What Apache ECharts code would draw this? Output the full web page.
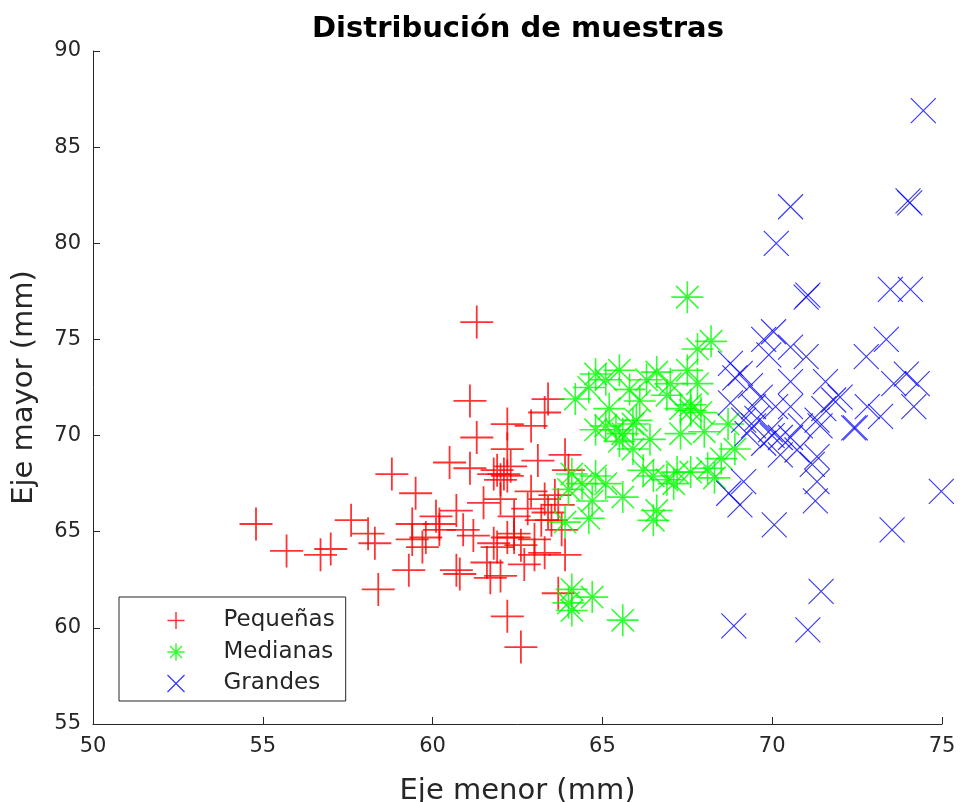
<!DOCTYPE html>
<html>
<head>
<meta charset="utf-8">
<script src="https://cdn.jsdelivr.net/npm/echarts@6/dist/echarts.min.js"></script>
<style>html,body{margin:0;padding:0;background:#fff}#c{width:960px;height:802px}</style>
</head>
<body>
<div id="c"></div>
<script>
const titleText = 'Distribución de muestras';
const xName = 'Eje menor (mm)';
const yName = 'Eje mayor (mm)';
const seriesNames = ['Pequeñas', 'Medianas', 'Grandes'];
const xTicks = [50, 55, 60, 65, 70, 75];
const yTicks = [55, 60, 65, 70, 75, 80, 85, 90];

const smallX = [54.8,55.7,56.7,57.0,57.6,58.1,58.3,58.4,58.8,59.5,59.3,59.4,59.4,59.7,60.2,60.1,60.5,60.7,60.9,60.7,60.8,61.1,61.1,61.3,61.3,62.2,62.2,62.9,63.3,63.4,61.8,62.1,62.2,61.9,62.0,63.1,63.9,62.9,63.3,63.7,62.4,62.0,61.8,61.9,62.0,61.7,62.2,62.6,62.7,62.4,63.0,63.3,63.9,63.7,63.5,63.8,62.6,63.0,64.0,61.5,61.2,62.8,63.6,62.3,61.6,63.4,63.2,62.4,62.2,59.8,60.2];
const smallY = [65.4,64.0,63.8,64.1,65.6,64.9,64.4,62.0,68.0,67.0,63.0,65.4,64.6,64.2,65.4,65.8,68.6,66.1,65.1,63.0,62.8,68.3,71.8,75.9,69.9,70.6,69.3,70.5,71.2,71.9,68.0,68.0,67.9,68.2,67.7,68.7,69.0,67.1,66.7,66.4,64.9,66.7,64.4,64.2,62.7,62.6,60.6,59.0,63.3,65.8,64.6,63.9,63.8,61.8,65.6,65.1,64.3,63.8,68.2,66.5,64.8,66.2,66.9,68.4,63.4,66.0,65.6,64.7,64.7,64.7,65.1];

const medX = [67.5,68.2,67.8,64.2,64.8,65.5,65.1,66.6,67.5,67.0,65.8,67.8,67.6,67.3,67.9,66.9,66.1,67.3,64.8,65.1,65.6,65.9,65.5,66.4,68.7,64.1,64.4,64.8,65.1,64.7,64.6,64.0,63.9,66.5,66.9,67.2,66.2,66.6,66.5,67.6,68.1,68.5,68.3,64.1,64.1,64.7,65.6,64.0,65.9,65.2,66.3,65.6,67.1,68.9,68.0,64.6,66.0,67.6,65.4];
const medY = [77.2,74.9,74.5,71.9,73.2,73.4,72.9,73.3,73.4,72.7,72.4,72.7,71.3,71.4,71.2,72.1,71.8,70.1,70.3,70.5,70.1,70.6,69.7,69.8,70.6,68.0,67.5,67.9,67.5,66.6,65.7,67.2,65.5,67.9,67.7,68.1,68.2,66.1,65.6,68.1,68.3,68.8,67.8,62.0,60.9,61.6,60.4,61.3,69.3,71.4,72.9,66.8,67.5,69.3,70.2,72.5,70.8,71.6,70.3];

const largeX = [74.45,74.05,74.0,70.54,70.12,71.05,71.0,73.48,74.07,73.36,72.77,73.95,70.04,69.75,70.54,71.0,68.77,69.06,70.54,71.57,74.27,73.58,74.17,73.19,72.8,72.45,72.0,71.52,71.41,69.55,69.95,70.24,70.54,69.75,69.26,70.1,70.54,68.77,70.73,70.24,71.18,71.32,71.27,69.16,68.72,69.05,70.06,73.53,74.98,71.44,68.87,71.05,69.36,69.65,69.45,69.16,70.83,71.32,71.81,72.4,71.32,69.45,70.0,69.9,68.9];
const largeY = [86.9,82.1,82.2,81.9,80.0,77.3,77.2,77.6,77.6,75.0,74.1,73.2,75.4,75.0,74.6,74.1,73.75,73.24,72.8,72.8,72.7,72.7,71.5,71.0,71.5,70.4,72.0,71.4,70.5,70.9,70.3,69.9,69.9,69.6,70.1,71.5,71.5,71.7,69.25,69.0,68.5,67.6,66.6,67.6,67.0,66.4,65.35,65.1,67.1,61.9,60.1,59.9,72.6,72.0,71.5,70.8,70.5,70.8,71.85,70.4,68.9,70.5,70.0,74.2,73.0];

const pair = (xs, ys) => xs.map((x, i) => [x, ys[i]]);

const plusPath = 'path://M10 0L10 20M0 10L20 10';
const starPath = 'path://M10 0L10 20M0 10L20 10M3 3L17 17M17 3L3 17';
const crossPath = 'path://M0 0L20 20M20 0L0 20';
const FONT = 'DejaVu Sans';
const axisColor = '#262626';

const chart = echarts.init(document.getElementById('c'), null, {renderer: 'canvas'});
chart.setOption({
  animation: false,
  backgroundColor: '#fff',
  title: {
    text: titleText,
    left: 307, top: 10,
    textStyle: {fontFamily: FONT, fontWeight: 'bold', fontSize: 29, color: '#000'}
  },
  grid: {left: 93, right: 18, top: 51, bottom: 78, containLabel: false, outerBoundsMode: 'none'},
  xAxis: {
    type: 'value', min: xTicks[0], max: xTicks[xTicks.length - 1], interval: 5,
    name: xName, nameLocation: 'middle', nameGap: 53,
    nameTextStyle: {fontFamily: FONT, fontSize: 29, color: axisColor},
    axisLine: {lineStyle: {color: axisColor, width: 1}},
    axisTick: {inside: true, length: 7, lineStyle: {color: axisColor}},
    axisLabel: {fontFamily: FONT, fontSize: 21, color: axisColor, margin: 12},
    splitLine: {show: false}
  },
  yAxis: {
    type: 'value', min: yTicks[0], max: yTicks[yTicks.length - 1], interval: 5,
    name: yName, nameLocation: 'middle', nameGap: 54,
    nameTextStyle: {fontFamily: FONT, fontSize: 29, color: axisColor},
    axisLine: {show: true, lineStyle: {color: axisColor, width: 1}},
    axisTick: {show: true, inside: true, length: 7, lineStyle: {color: axisColor}},
    axisLabel: {fontFamily: FONT, fontSize: 21, color: axisColor, margin: 12},
    splitLine: {show: false}
  },
  legend: {
    orient: 'vertical', left: 119, top: 597,
    backgroundColor: '#fff', borderColor: '#262626', borderWidth: 1,
    padding: [12, 11, 6, 46],
    itemWidth: 17, itemHeight: 17, itemGap: 8.5,
    textStyle: {fontFamily: FONT, fontSize: 23, lineHeight: 20, color: axisColor, padding: [0, 0, 0, 34]},
    data: [
      {name: seriesNames[0], icon: plusPath, itemStyle: {color: 'none', borderColor: '#ff0000', borderWidth: 1.5}},
      {name: seriesNames[1], icon: starPath, itemStyle: {color: 'none', borderColor: '#00ff00', borderWidth: 1.5}},
      {name: seriesNames[2], icon: crossPath, itemStyle: {color: 'none', borderColor: '#0000ff', borderWidth: 1.2}}
    ]
  },
  series: [
    {name: seriesNames[0], type: 'scatter', symbol: plusPath, symbolSize: 33,
     itemStyle: {color: 'none', borderColor: '#ff0000', borderWidth: 1.8},
     data: pair(smallX, smallY)},
    {name: seriesNames[1], type: 'scatter', symbol: starPath, symbolSize: 32,
     itemStyle: {color: 'none', borderColor: '#00ff00', borderWidth: 1.6},
     data: pair(medX, medY)},
    {name: seriesNames[2], type: 'scatter', symbol: crossPath, symbolSize: 25,
     itemStyle: {color: 'none', borderColor: '#0000ff', borderWidth: 1.1},
     data: pair(largeX, largeY)}
  ]
});
</script>
</body>
</html>
